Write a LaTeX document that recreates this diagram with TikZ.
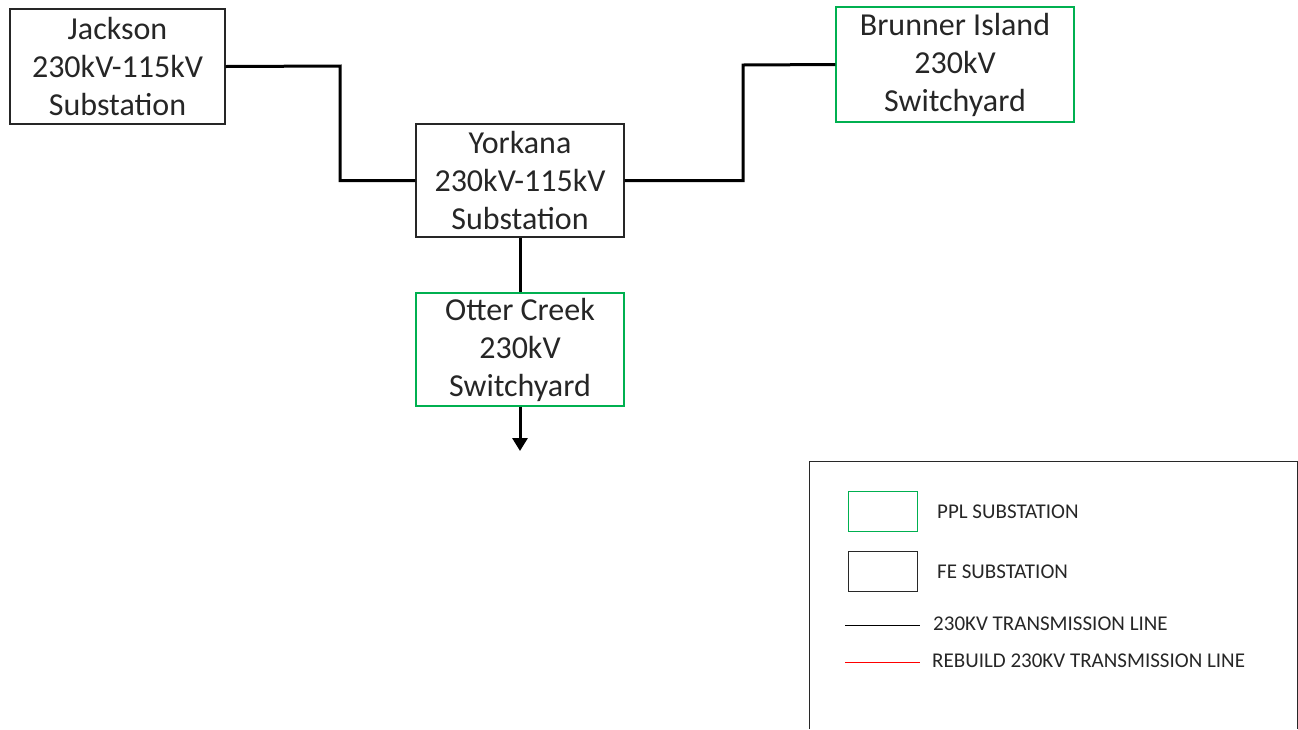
\documentclass[tikz,border=0pt]{standalone}
\usepackage{fontspec}
\setmainfont{Carlito}
\usetikzlibrary{arrows.meta}
\definecolor{pplgreen}{RGB}{0,176,80}
\definecolor{legendgray}{RGB}{40,40,40}
\tikzset{
  box/.style={draw=black, line width=1.1pt, rectangle, align=center, inner sep=0pt,
    font=\fontsize{32}{38}\selectfont, text=black!85},
  fe/.style={box, draw=black!85},
  ppl/.style={box, draw=pplgreen},
  tline/.style={line width=3pt, black},
  legtext/.style={anchor=west, font=\fontsize{21}{24}\selectfont, text=black!85, inner sep=0pt},
}
\begin{document}
\begin{tikzpicture}[x=1pt,y=-1pt]
\useasboundingbox (0,0) rectangle (1298,729);
% substations
\node[fe, minimum width=215pt, minimum height=115pt] (jack) at (117.5,66.5) {Jackson\\230kV-115kV\\Substation};
\node[fe, minimum width=208pt, minimum height=113pt] (york) at (520,180.5) {Yorkana\\230kV-115kV\\Substation};
\node[ppl, minimum width=238pt, minimum height=115pt] (brun) at (955,64.5) {Brunner Island\\230kV\\Switchyard};
\node[ppl, minimum width=208pt, minimum height=113pt] (otter) at (520,349.5) {Otter Creek\\230kV\\Switchyard};
% lines
\coordinate (b1) at (340,66);
\coordinate (b2) at (743,65);
\coordinate (arr) at (520,451);
\draw[tline] (jack.east) -- (b1) |- (york.west);
\draw[tline] (york.east) -| (b2) -- (brun.west);
\draw[tline] (york.south) -- (otter.north);
\draw[tline, -{Triangle[width=15pt,length=13pt]}] (otter.south) -- (arr);
% legend
\draw[legendgray, line width=1pt] (809,729) -- (809,461) -- (1297,461) -- (1297,729);
\node[draw=pplgreen, line width=1pt, minimum width=69pt, minimum height=40pt, inner sep=0pt] (lgppl) at (882.5,511) {};
\node[draw=legendgray, line width=1pt, minimum width=69pt, minimum height=40pt, inner sep=0pt] (lgfe) at (882.5,571) {};
\node[legtext] (tppl) at (937,512) {PPL SUBSTATION};
\node[legtext] (tfe) at (937,572) {FE SUBSTATION};
\coordinate (l1a) at (845,625);
\coordinate (l1b) at (920,625);
\coordinate (l2a) at (845,662);
\coordinate (l2b) at (920,662);
\draw[black, line width=1pt] (l1a) -- (l1b);
\draw[red, line width=1pt] (l2a) -- (l2b);
\node[legtext] (t230) at (933,624) {230KV TRANSMISSION LINE};
\node[legtext] (treb) at (932,661) {REBUILD 230KV TRANSMISSION LINE};
\end{tikzpicture}
\end{document}
